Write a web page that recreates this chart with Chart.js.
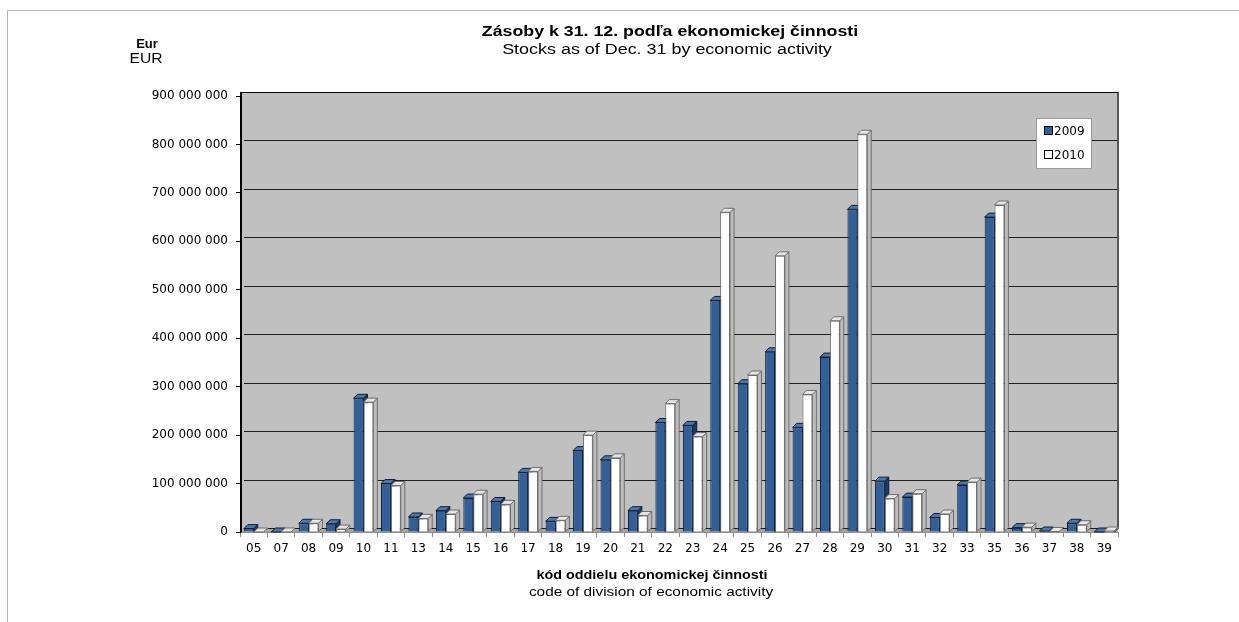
<!DOCTYPE html>
<html>
<head>
<meta charset="utf-8">
<script src="https://cdn.jsdelivr.net/npm/chart.js@4.4.0/dist/chart.umd.min.js"></script>
<style>
  body { margin: 0; background: #fff; font-family: "Liberation Sans", Arial, sans-serif; }
  #wrap { position: relative; width: 1239px; height: 622px; overflow: hidden; }
  #frame { position: absolute; left: 7px; top: 10px; width: 1300px; height: 700px;
           border-left: 1px solid #b4b4b4; border-top: 1px solid #b4b4b4; }
  .txt { position: absolute; color: #000; white-space: nowrap; transform-origin: 50% 50%; }
  .b { font-weight: bold; }
  #legend { position: absolute; left: 1036px; top: 118px; width: 56px; height: 51px;
            background: #fff; border: 1px solid #9a9a9a; box-sizing: border-box;
            font-size: 12px; font-family: "DejaVu Sans", sans-serif; }
  #legend div { position: absolute; left: 7px; height: 14px; line-height: 14px; }
  #legend span { display: inline-block; width: 7px; height: 7px; border: 1px solid #000; margin-right: 1px; vertical-align: 0px; }
</style>
</head>
<body>
<div id="wrap">
  <div id="frame"></div>
  <canvas id="chart" width="1239" height="622"></canvas>
  <div class="txt b" style="left:670px; top:23px; font-size:14px; transform:translateX(-50%) scaleX(1.27);">Zásoby k 31. 12. podľa ekonomickej činnosti</div>
  <div class="txt" style="left:667px; top:41px; font-size:14px; transform:translateX(-50%) scaleX(1.28);">Stocks as of Dec. 31 by economic activity</div>
  <div class="txt b" style="left:147px; top:36px; font-size:13px; transform:translateX(-50%);">Eur</div>
  <div class="txt" style="left:146px; top:50px; font-size:14px; transform:translateX(-50%) scaleX(1.12);">EUR</div>
  <div class="txt b" style="left:652px; top:568px; font-size:12px; transform:translateX(-50%) scaleX(1.2);">kód oddielu ekonomickej činnosti</div>
  <div class="txt" style="left:651px; top:585px; font-size:12px; transform:translateX(-50%) scaleX(1.28);">code of division of economic activity</div>
  <div id="legend">
    <div style="top:5px;"><span style="background:#335f99;"></span>2009</div>
    <div style="top:29px;"><span style="background:#fff;"></span>2010</div>
  </div>
</div>
<script>
// kódy oddielov (SK NACE)
const divisions = ['05', '07', '08', '09', '10', '11', '13', '14', '15', '16', '17', '18', '19', '20', '21', '22',
                   '23', '24', '25', '26', '27', '28', '29', '30', '31', '32', '33', '35', '36', '37', '38', '39'];

// zásoby v mil. EUR, odčítané z grafu
const stocks2009 = [7, 0, 18, 17, 276, 100, 31, 44, 70, 63, 123, 22, 168, 149, 44, 226,
                    220, 478, 306, 372, 216, 361, 666, 105, 72, 30, 97, 650, 9, 2, 18, 0];
const stocks2010 = [0, 0, 18, 6, 268, 96, 28, 37, 78, 57, 125, 24, 200, 153, 34, 265,
                    197, 660, 324, 570, 284, 436, 821, 69, 79, 37, 103, 675, 10, 1, 15, 2];

const yMax = 900000000;
const yStep = 100000000;

const DEPTH = 4;

function spaced(v) {
  return String(v).replace(/\B(?=(\d{3})+(?!\d))/g, ' ');
}

// pozadie, mriežka na zadnej stene, podlaha
const wallPlugin = {
  id: 'wall',
  beforeDatasetsDraw(chart) {
    const { ctx, chartArea: a, scales } = chart;
    const d = DEPTH;
    ctx.save();
    ctx.fillStyle = '#c0c0c0';
    ctx.fillRect(a.left, a.top - d, a.right - a.left, a.bottom - a.top + d);
    // floor
    ctx.fillStyle = '#a6a6a6';
    ctx.beginPath();
    ctx.moveTo(a.left, a.bottom);
    ctx.lineTo(a.left + d, a.bottom - d);
    ctx.lineTo(a.right, a.bottom - d);
    ctx.lineTo(a.right - d, a.bottom);
    ctx.closePath();
    ctx.fill();
    // grid lines on back wall
    ctx.strokeStyle = '#1e1e1e';
    ctx.lineWidth = 1;
    scales.y.ticks.forEach(t => {
      const y = Math.round(scales.y.getPixelForValue(t.value) - d) + 0.5;
      ctx.beginPath();
      ctx.moveTo(a.left + d, y);
      ctx.lineTo(a.right, y);
      ctx.stroke();
    });
    // walls edges
    ctx.strokeStyle = '#000';
    ctx.lineWidth = 2;
    ctx.beginPath();
    ctx.moveTo(a.left + 1, a.top - d);
    ctx.lineTo(a.left + 1, a.bottom);
    ctx.stroke();
    ctx.strokeStyle = '#555';
    ctx.lineWidth = 2;
    ctx.beginPath();
    ctx.moveTo(a.right, a.top - d);
    ctx.lineTo(a.right, a.bottom - d);
    ctx.lineTo(a.right - d, a.bottom);
    ctx.stroke();
    ctx.strokeStyle = '#000';
    ctx.lineWidth = 1;
    ctx.beginPath();
    ctx.moveTo(a.left, a.top - d + 0.5);
    ctx.lineTo(a.right, a.top - d + 0.5);
    ctx.stroke();

    // 3D faces of bars (side + top), drawn behind the fronts
    const faces = [
      { side: '#1d3b66', top: '#4d77ad', line: '#0d1d33' },
      { side: '#bdbdbd', top: '#e6e6e6', line: '#6e6e6e' }
    ];
    chart.data.datasets.forEach((ds, i) => {
      const meta = chart.getDatasetMeta(i);
      const f = faces[i];
      meta.data.forEach(bar => {
        const p = bar.getProps(['x', 'y', 'base', 'width'], true);
        const l = p.x - p.width / 2, r = p.x + p.width / 2;
        ctx.lineWidth = 1;
        ctx.strokeStyle = f.line;
        ctx.fillStyle = f.side;
        ctx.beginPath();
        ctx.moveTo(r, p.y);
        ctx.lineTo(r + d, p.y - d);
        ctx.lineTo(r + d, p.base - d);
        ctx.lineTo(r, p.base);
        ctx.closePath();
        ctx.fill();
        ctx.stroke();
        ctx.fillStyle = f.top;
        ctx.beginPath();
        ctx.moveTo(l, p.y);
        ctx.lineTo(l + d, p.y - d);
        ctx.lineTo(r + d, p.y - d);
        ctx.lineTo(r, p.y);
        ctx.closePath();
        ctx.fill();
        ctx.stroke();
      });
    });
    ctx.restore();
  }
};

const tickFont = { family: '"DejaVu Sans", sans-serif', size: 12 };

const ctx = document.getElementById('chart').getContext('2d');
const chart = new Chart(ctx, {
  type: 'bar',
  data: {
    labels: divisions,
    datasets: [{
      label: '2009',
      data: stocks2009.map(v => v * 1e6),
      backgroundColor: '#335f99',
      borderColor: '#0d1d33',
      borderWidth: 1,
      borderSkipped: 'bottom'
    }, {
      label: '2010',
      data: stocks2010.map(v => v * 1e6),
      backgroundColor: '#ffffff',
      borderColor: '#6e6e6e',
      borderWidth: 1,
      borderSkipped: 'bottom'
    }]
  },
  options: {
    responsive: false,
    animation: false,
    categoryPercentage: 0.72,
    barPercentage: 1,
    layout: { padding: { left: 0, right: 121, top: 96, bottom: 0 } },
    plugins: {
      legend: { display: false },
      tooltip: { enabled: false },
      title: { display: false }
    },
    scales: {
      x: {
        afterFit(scale) { scale.height = 90; },
        grid: { drawOnChartArea: false, offset: true, tickLength: 5, color: '#8c8c8c' },
        border: { display: true, color: '#8c8c8c', width: 1 },
        ticks: { color: '#000', padding: 5, maxRotation: 0, autoSkip: false, font: tickFont }
      },
      y: {
        min: 0,
        max: yMax,
        afterFit(scale) { scale.width = 240; },
        grid: { drawOnChartArea: false, tickLength: 4, color: '#000' },
        border: { display: true, color: '#000', width: 1 },
        ticks: {
          stepSize: yStep,
          color: '#000',
          padding: 8,
          font: tickFont,
          callback: v => spaced(v)
        }
      }
    }
  },
  plugins: [wallPlugin]
});
</script>
</body>
</html>
